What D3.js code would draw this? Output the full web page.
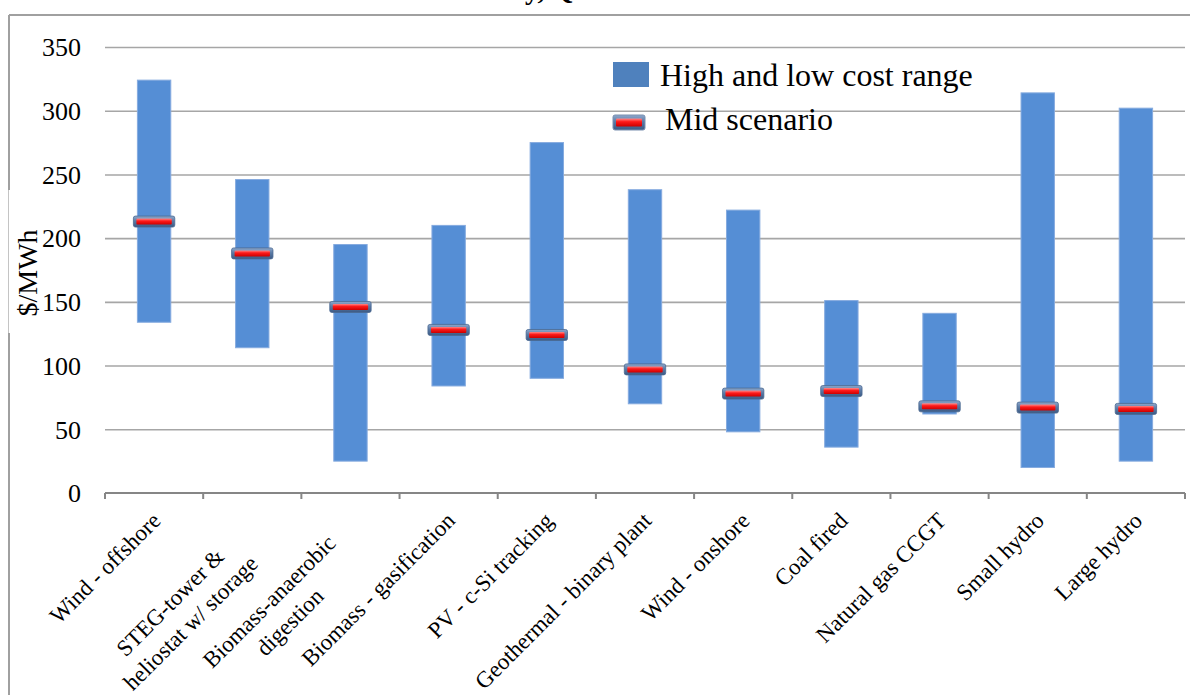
<!DOCTYPE html>
<html>
<head>
<meta charset="utf-8">
<script src="https://cdn.jsdelivr.net/npm/d3@7"></script>
<style>
  html, body { margin: 0; padding: 0; background: #ffffff; }
  svg { display: block; }
  svg text { font-family: "Liberation Serif", "Times New Roman", Times, serif; }
</style>
</head>
<body>
<svg id="chart" width="1190" height="695"></svg>
<script>
// Technology categories (line breaks mark wrapped axis labels)
const categories = [
  "Wind - offshore",
  "STEG-tower &\nheliostat w/ storage",
  "Biomass-anaerobic\ndigestion",
  "Biomass - gasification",
  "PV - c-Si tracking",
  "Geothermal - binary plant",
  "Wind - onshore",
  "Coal fired",
  "Natural gas CCGT",
  "Small hydro",
  "Large hydro"
];

// Levelised cost, $/MWh
const highCost    = [324, 246, 195, 210, 275, 238, 222, 151, 141, 314, 302];
const lowCost     = [134, 114,  25,  84,  90,  70,  48,  36,  62,  20,  25];
const midScenario = [213, 188, 146, 128, 124,  97,  78,  80,  68,  67,  66];

const yTicks = [0, 50, 100, 150, 200, 250, 300, 350];
const legendLabels = ["High and low cost range", "Mid scenario"];
const yTitle = "$/MWh";
const titleText = "Levelized cost of electricity, Q3 2013";

const serif = '"Liberation Serif", "Times New Roman", Times, serif';
const svg = d3.select("#chart");
const W = 1190, H = 695;
const plot = { left: 105, right: 1185, top: 47, bottom: 493 };

const x = d3.scaleBand().domain(categories).range([plot.left, plot.right]).padding(0);
const y = d3.scaleLinear().domain([0, 350]).range([plot.bottom, plot.top]);

const barW = x.bandwidth() * 0.34;
const markerW = barW + 8, markerH = 11;

// Gradients for the mid-scenario marker
const defs = svg.append("defs");
const gOuter = defs.append("linearGradient").attr("id", "markOuter").attr("x1", 0).attr("y1", 0).attr("x2", 0).attr("y2", 1);
gOuter.append("stop").attr("offset", "0%").attr("stop-color", "#8ea8cc");
gOuter.append("stop").attr("offset", "45%").attr("stop-color", "#5a7aa6");
gOuter.append("stop").attr("offset", "100%").attr("stop-color", "#3c5a84");
const gRed = defs.append("linearGradient").attr("id", "markRed").attr("x1", 0).attr("y1", 0).attr("x2", 0).attr("y2", 1);
gRed.append("stop").attr("offset", "0%").attr("stop-color", "#ff8a8a");
gRed.append("stop").attr("offset", "40%").attr("stop-color", "#ff1a1a");
gRed.append("stop").attr("offset", "100%").attr("stop-color", "#cc0000");

// Title (runs off the top edge)
const title = svg.append("text")
  .attr("y", -1)
  .style("font-family", serif)
  .attr("font-size", 28)
  .attr("font-weight", "bold")
  .attr("fill", "#000")
  .text(titleText);
const yIdx = titleText.indexOf("y,");
const preLen = title.node().getSubStringLength(0, yIdx);
title.attr("x", 525 - preLen);

// Outer frame (top and left edges)
svg.append("line").attr("x1", 9).attr("x2", W).attr("y1", 15).attr("y2", 15)
  .attr("stroke", "#a0a0a0").attr("stroke-width", 2);
svg.append("line").attr("x1", 9).attr("x2", 9).attr("y1", 15).attr("y2", H)
  .attr("stroke", "#a0a0a0").attr("stroke-width", 2);

// Y axis title box
svg.append("rect").attr("x", 7).attr("y", 190).attr("width", 6).attr("height", 143).attr("fill", "#fff");
svg.append("line").attr("x1", 8.5).attr("x2", 8.5).attr("y1", 190).attr("y2", 333)
  .attr("stroke", "#c4c4c4").attr("stroke-width", 1);
svg.append("text")
  .attr("transform", `translate(37,273) rotate(-90)`)
  .attr("text-anchor", "middle")
  .style("font-family", serif)
  .attr("font-size", 28)
  .attr("fill", "#000")
  .text(yTitle);

// Y axis with gridlines
const yAxis = svg.append("g")
  .attr("transform", `translate(${plot.left},0)`)
  .call(d3.axisLeft(y).tickValues(yTicks).tickSize(-(plot.right - plot.left)).tickPadding(24).tickFormat(d3.format("d")));
yAxis.attr("font-family", null);
yAxis.select(".domain").remove();
yAxis.selectAll(".tick line").attr("stroke", "#a6a6a6").attr("stroke-width", 1.6);
yAxis.selectAll(".tick text")
  .style("font-family", serif)
  .attr("font-size", 26)
  .attr("fill", "#000")
  .attr("dy", "0.34em");
yAxis.selectAll(".tick").filter(d => d === 0).select("line").remove();

// Range bars
svg.append("g").selectAll("rect")
  .data(categories)
  .join("rect")
  .attr("x", d => x(d) + (x.bandwidth() - barW) / 2)
  .attr("y", (d, i) => y(highCost[i]))
  .attr("width", barW)
  .attr("height", (d, i) => y(lowCost[i]) - y(highCost[i]))
  .attr("fill", "#558ed5")
  .attr("stroke", "#86abdf")
  .attr("stroke-width", 1);

// Mid-scenario markers
const marks = svg.append("g").selectAll("g")
  .data(categories)
  .join("g")
  .attr("transform", (d, i) => `translate(${x(d) + x.bandwidth() / 2},${y(midScenario[i])})`);
marks.append("rect")
  .attr("x", -markerW / 2).attr("y", -markerH / 2)
  .attr("width", markerW).attr("height", markerH)
  .attr("rx", 2)
  .attr("fill", "url(#markOuter)")
  .attr("stroke", "#4a6890").attr("stroke-width", 0.8);
marks.append("rect")
  .attr("x", -markerW / 2 + 3).attr("y", -3)
  .attr("width", markerW - 6).attr("height", 6)
  .attr("rx", 1)
  .attr("fill", "url(#markRed)");

// X axis line and tick marks at category boundaries
const xAxisG = svg.append("g");
xAxisG.append("line")
  .attr("x1", plot.left).attr("x2", plot.right)
  .attr("y1", plot.bottom).attr("y2", plot.bottom)
  .attr("stroke", "#868686").attr("stroke-width", 2);
const boundaries = categories.map(c => x(c)).concat([x(categories[categories.length - 1]) + x.bandwidth()]);
xAxisG.selectAll("line.tk")
  .data(boundaries)
  .join("line")
  .attr("class", "tk")
  .attr("x1", d => d).attr("x2", d => d)
  .attr("y1", plot.bottom).attr("y2", plot.bottom + 6)
  .attr("stroke", "#868686").attr("stroke-width", 2);

// Rotated category labels
const labelSize = 23;
const labels = svg.append("g").selectAll("g")
  .data(categories)
  .join("g")
  .attr("transform", d => `translate(${x(d) + x.bandwidth() / 2},${plot.bottom}) rotate(-45)`);
labels.each(function (d) {
  const g = d3.select(this);
  const lines = d.split("\n");
  const t = g.append("text")
    .style("font-family", serif)
    .attr("font-size", labelSize)
    .attr("fill", "#000")
    .attr("text-anchor", "middle");
  const spans = lines.map(l => t.append("tspan").text(l));
  const widths = spans.map(s => s.node().getComputedTextLength());
  const maxW = d3.max(widths);
  const multi = lines.length > 1;
  const rightEdge = multi ? -46 : -15;
  const firstBase = multi ? 27 : 26;
  const lineH = 29;
  spans.forEach((s, i) => {
    s.attr("x", rightEdge - maxW / 2).attr("y", firstBase + i * lineH);
  });
});

// Legend
const legend = svg.append("g");
legend.append("rect")
  .attr("x", 613).attr("y", 62).attr("width", 36).attr("height", 25)
  .attr("fill", "#4f81bd");
legend.append("text")
  .attr("x", 660).attr("y", 86)
  .style("font-family", serif)
  .attr("font-size", 32).attr("fill", "#000")
  .text(legendLabels[0]);
legend.append("rect")
  .attr("x", 613).attr("y", 115).attr("width", 32).attr("height", 15).attr("rx", 2)
  .attr("fill", "url(#markOuter)").attr("stroke", "#7a90b0").attr("stroke-width", 1);
legend.append("rect")
  .attr("x", 616).attr("y", 118.5).attr("width", 26).attr("height", 8).attr("rx", 1)
  .attr("fill", "url(#markRed)");
legend.append("text")
  .attr("x", 665).attr("y", 130)
  .style("font-family", serif)
  .attr("font-size", 32).attr("fill", "#000")
  .text(legendLabels[1]);
</script>
</body>
</html>
